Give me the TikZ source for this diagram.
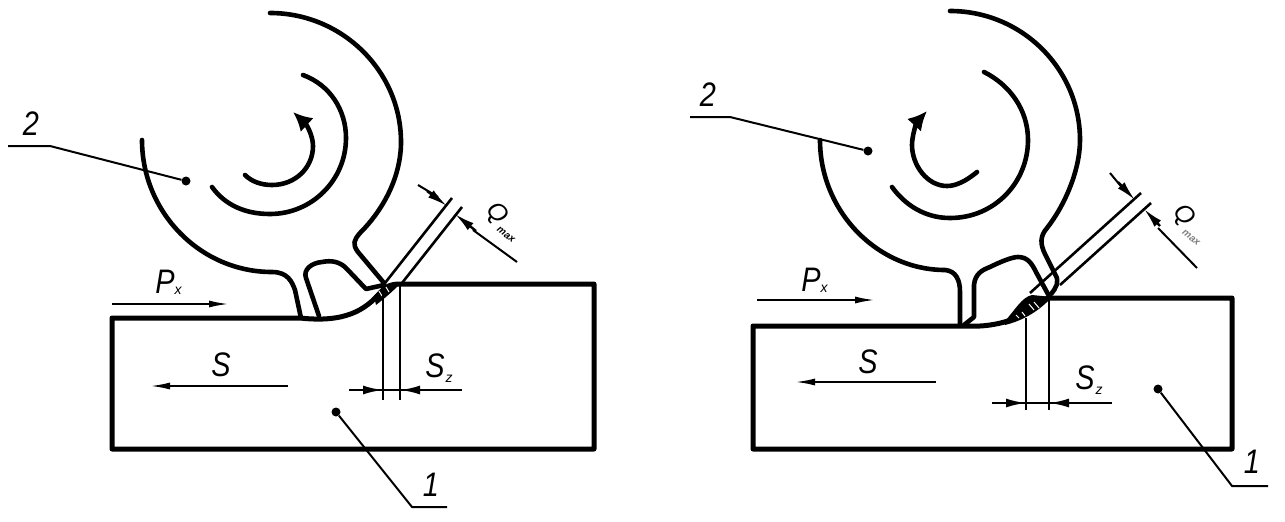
\documentclass[tikz,border=0pt]{standalone}
\usepackage{fontspec}
\setmainfont{Liberation Sans}
\usetikzlibrary{arrows.meta}
\tikzset{
  body/.style={line width=5pt,line join=round,line cap=round},
  tool/.style={line width=4.6pt,line join=round,line cap=round},
  fine/.style={line width=2.6pt},
  dimarrow/.style={line width=2.4pt,-{Latex[length=20pt,width=9pt]}},
  lead/.style={line width=2pt},
  dotmark/.style={circle,fill=black,inner sep=0pt,minimum size=9pt},
  lbl/.style={font=\fontsize{34}{34}\itshape,inner sep=0pt,xscale=0.85},
  qlbl/.style={font=\fontsize{25}{25}\itshape,inner sep=0pt,rotate=-50},
  sublbl/.style={font=\fontsize{14}{14}\itshape,inner sep=0pt},
  maxlbl/.style={font=\fontsize{10}{10}\bfseries\itshape,inner sep=0pt,rotate=-38},
}
\begin{document}
\begin{tikzpicture}[x=1pt,y=-1pt,line cap=butt]
\useasboundingbox (0,0) rectangle (1285,522);
% left part
\draw [body] (112,318) -- (300,318) .. controls (345,323) and (365,310) .. (380,293) .. controls (385,287) and (390,284) .. (400,284) -- (594,284) -- (594,449) -- (112,449) -- cycle;
\fill (374,296) .. controls (382,286) and (390,283) .. (400,284) .. controls (392,292) and (385,298) .. (376,305) -- cycle;
\draw [white,line width=1pt] (386,287) -- (389,292) (379,291) -- (382,296);
\draw [tool] (142,140) .. controls (142,212) and (200,272) .. (272,272) .. controls (288,272) and (292,282) .. (295,290) -- (301,318);
\draw [tool] (319,316) -- (306,278) .. controls (303,270) and (311,263) .. (322,262) .. controls (332,260) and (340,262) .. (346,268) -- (366,289) -- (384,285);
\draw [tool] (384,283) -- (358,252) .. controls (352,244) and (354,240) .. (360,233) .. controls (385,208) and (401,175) .. (401,142) .. controls (401,71) and (342,13) .. (270,13);
\draw [tool] (303,75) .. controls (330,85) and (346,110) .. (346,138) .. controls (346,180) and (312,214) .. (270,214) .. controls (245,214) and (225,205) .. (212,187);
\draw [tool,-{Latex[length=19pt,width=19pt]}] (245,175) .. controls (252,182) and (262,185) .. (272,185) .. controls (295,185) and (313,168) .. (313,146) .. controls (313,135) and (306,124) .. (293,112);
\draw [fine] (385,283) -- (452,198) (402,283) -- (462,207);
\draw [lead] (438,197) -- (418,185) (473,230) -- (517,262);
\draw [dimarrow] (427,191) -- (447,206);
\draw [dimarrow] (476,231) -- (455,214);
\node [qlbl] (qa) at (497,214) {Q};
\node [maxlbl] (qasub) at (506,235) {max};
\draw [fine] (383,294) -- (383,400) (400,286) -- (400,400);
\draw [lead] (349,390) -- (462,390);
\draw [dimarrow] (358,390) -- (383,390);
\draw [dimarrow] (425,390) -- (400,390);
\node [lbl] (sza) at (435,366) {S};
\node [sublbl] (szasub) at (449,379) {z};
\draw [lead,-{Latex[length=20pt,width=7pt]}] (112,304) -- (229,304);
\node [lbl] (pa) at (165,282) {P};
\node [sublbl] (pasub) at (178,291) {x};
\draw [lead,-{Latex[length=20pt,width=7pt]}] (288,386) -- (150,386);
\node [lbl] (sa) at (221,365) {S};
\node [dotmark] (dota) at (186,181) {};
\node [dotmark] (dotb) at (336,412) {};
\coordinate (kneea) at (50,146);
\coordinate (kneeb) at (412,507);
\draw [lead] (8,146) -- (kneea) -- (dota);
\draw [lead] (447,507) -- (kneeb) -- (dotb);
\node [lbl] (numa) at (31,124) {2};
\node [lbl] (numb) at (431,485) {1};
% right part
\draw [body] (753,326) -- (965,326) .. controls (1000,328) and (1025,316) .. (1038,305) .. controls (1042,302) and (1044,298) .. (1050,298) -- (1232,298) -- (1232,449) -- (753,449) -- cycle;
\fill (1005,321) .. controls (1015,310) and (1022,297) .. (1032,295) -- (1052,297) .. controls (1040,310) and (1025,320) .. (1005,325) -- cycle;
\draw [white,line width=1pt] (1016,315) -- (1019,318) (1022,312) -- (1025,316) (1029,304) -- (1034,310) (1034,302) -- (1039,308);
\draw [tool] (820,140) .. controls (820,212) and (878,270) .. (945,270) .. controls (956,271) and (960,280) .. (960,292) -- (960,325);
\draw [tool] (964,325) -- (974,317) -- (974,285) .. controls (975,274) and (982,270) .. (990,267) .. controls (1000,262) and (1012,257) .. (1018,257) .. controls (1028,257) and (1032,264) .. (1036,272) -- (1049,296);
\draw [tool] (1051,294) .. controls (1056,288) and (1060,282) .. (1055,274) -- (1045,254) .. controls (1040,244) and (1040,236) .. (1047,228) .. controls (1065,205) and (1080,170) .. (1080,140) .. controls (1080,69) and (1022,11) .. (950,11);
\draw [tool] (984,72) .. controls (1010,85) and (1028,110) .. (1028,140) .. controls (1028,182) and (995,218) .. (950,218) .. controls (925,218) and (905,205) .. (892,187);
\draw [tool,-{Latex[length=19pt,width=19pt]}] (977,172) .. controls (965,182) and (955,186) .. (947,186) .. controls (927,186) and (912,165) .. (912,145) .. controls (912,135) and (917,122) .. (927,111);
\draw [fine] (1030,293) -- (1141,193) (1060,285) -- (1151,203);
\draw [lead] (1124,190) -- (1110,173) (1158,228) -- (1197,268);
\draw [dimarrow] (1118,182) -- (1135,200);
\draw [dimarrow] (1160,226) -- (1144,209);
\node [qlbl] (qb) at (1184,216) {Q};
\node [maxlbl,gray] (qbsub) at (1191,238) {max};
\draw [fine] (1026,318) -- (1026,410) (1049,300) -- (1049,410);
\draw [lead] (992,403) -- (1112,403);
\draw [dimarrow] (1000,403) -- (1026,403);
\draw [dimarrow] (1075,403) -- (1049,403);
\node [lbl] (szb) at (1085,378) {S};
\node [sublbl] (szbsub) at (1099,391) {z};
\draw [lead,-{Latex[length=20pt,width=7pt]}] (757,300) -- (875,300);
\node [lbl] (pb) at (811,280) {P};
\node [sublbl] (pbsub) at (824,289) {x};
\draw [lead,-{Latex[length=20pt,width=7pt]}] (936,382) -- (795,382);
\node [lbl] (sb) at (868,362) {S};
\node [dotmark] (dotc) at (868,151) {};
\node [dotmark] (dotd) at (1158,389) {};
\coordinate (kneec) at (730,117);
\coordinate (kneed) at (1232,486);
\draw [lead] (690,117) -- (kneec) -- (dotc);
\draw [lead] (1268,486) -- (kneed) -- (dotd);
\node [lbl] (numc) at (708,95) {2};
\node [lbl] (numd) at (1252,462) {1};
\end{tikzpicture}
\end{document}
